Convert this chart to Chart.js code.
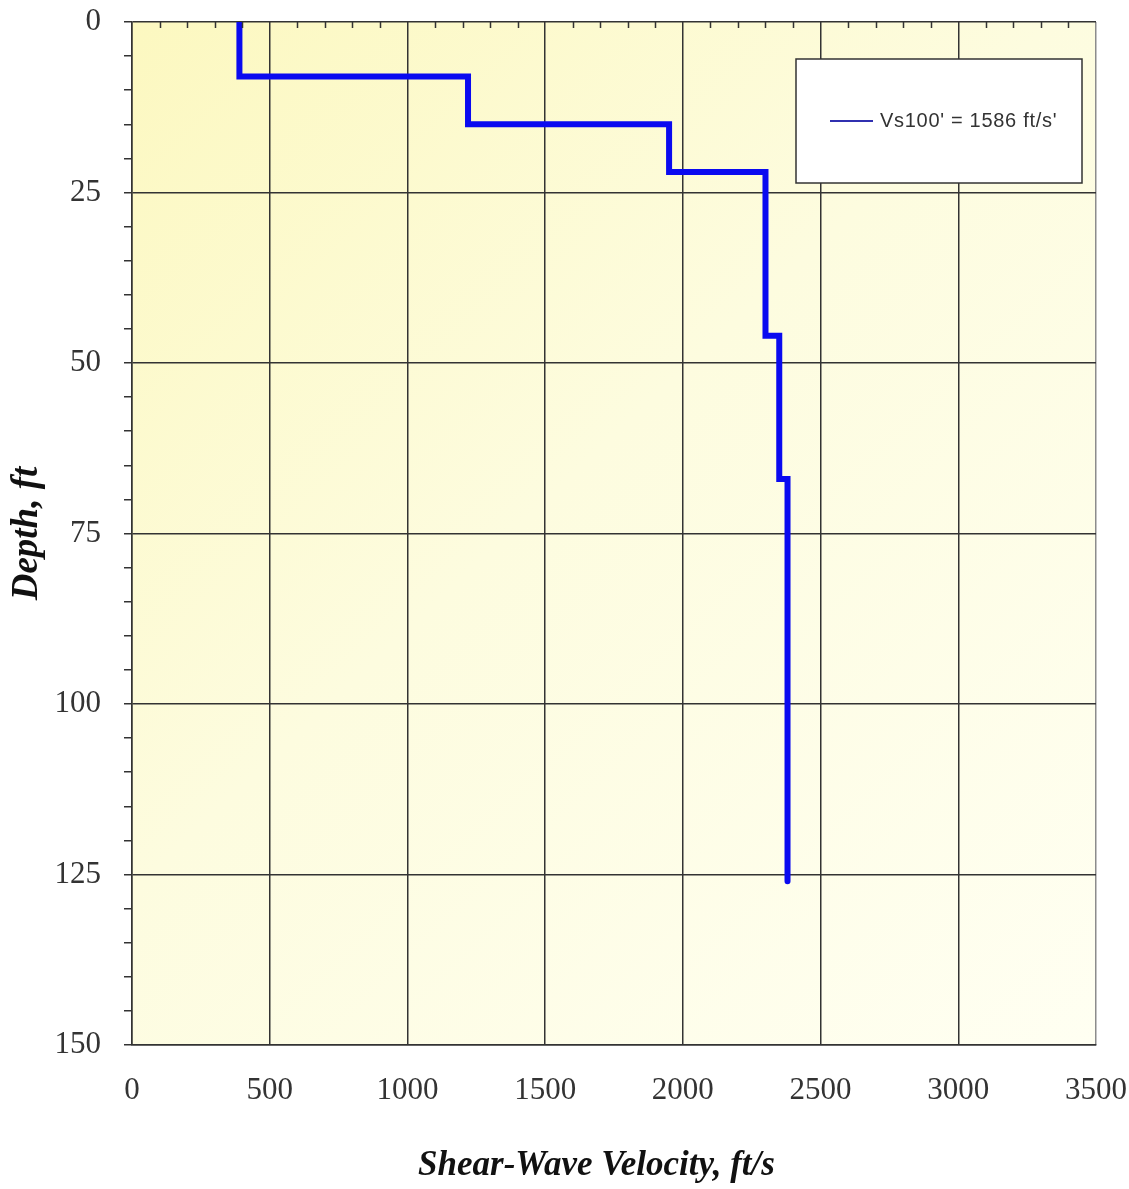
<!DOCTYPE html>
<html>
<head>
<meta charset="utf-8">
<script src="https://cdn.jsdelivr.net/npm/chart.js@4/dist/chart.umd.min.js"></script>
<style>
  html, body { margin: 0; padding: 0; background: #ffffff; }
  canvas { display: block; }
</style>
</head>
<body>
<canvas id="vsChart" width="1129" height="1189"></canvas>
<script>
// Shear-wave velocity layers: velocity (ft/s) and depth to layer bottom (ft)
const layerVelocity = [390, 1220, 1950, 2300, 2350, 2380];
const layerBottom   = [8, 15, 22, 46, 67, 126];
const seriesLabel   = "Vs100' = 1586 ft/s'";

// Axis extents and tick spacing
const velocityRange = [0, 3500];
const velocityStep  = 500;
const velocityMinor = 100;
const depthRange    = [0, 150];
const depthStep     = 25;
const depthMinor    = 5;

// Build the stepped profile: each layer contributes its top and bottom point
const profile = [];
let layerTop = 0;
layerVelocity.forEach((v, i) => {
  profile.push({ x: v, y: layerTop });
  profile.push({ x: v, y: layerBottom[i] });
  layerTop = layerBottom[i];
});

const AXIS_COLOR = '#333333';
const SERIF = "'Liberation Serif', 'Times New Roman', serif";

// Creamy yellow fill behind the plot
const plotBackground = {
  id: 'plotBackground',
  beforeDraw(chart) {
    const { ctx, chartArea: a, width, height } = chart;
    ctx.save();
    ctx.fillStyle = '#ffffff';
    ctx.fillRect(0, 0, width, height);
    const g = ctx.createLinearGradient(a.left, a.top, a.right, a.bottom);
    g.addColorStop(0, '#fcf8c0');
    g.addColorStop(0.45, '#fdfcdf');
    g.addColorStop(1, '#fffff2');
    ctx.fillStyle = g;
    ctx.fillRect(a.left, a.top, a.right - a.left, a.bottom - a.top);
    ctx.restore();
  }
};

// Small inward ticks along the top edge of the plot
const topMinorTicks = {
  id: 'topMinorTicks',
  afterDatasetsDraw(chart) {
    const { ctx, chartArea: a, scales: { x } } = chart;
    ctx.save();
    ctx.strokeStyle = AXIS_COLOR;
    ctx.lineWidth = 1.5;
    ctx.beginPath();
    for (let v = velocityRange[0] + velocityMinor; v < velocityRange[1]; v += velocityMinor) {
      if (v % velocityStep === 0) continue;
      const px = Math.round(x.getPixelForValue(v)) + 0.5;
      ctx.moveTo(px, a.top);
      ctx.lineTo(px, a.top + 6);
    }
    ctx.stroke();
    ctx.restore();
  }
};

// Boxed legend in the upper right of the plot
const boxLegend = {
  id: 'boxLegend',
  afterDatasetsDraw(chart) {
    const { ctx, chartArea: a } = chart;
    const bx = a.right - 300, by = a.top + 37, bw = 286, bh = 124;
    ctx.save();
    ctx.fillStyle = '#ffffff';
    ctx.fillRect(bx, by, bw, bh);
    ctx.strokeStyle = AXIS_COLOR;
    ctx.lineWidth = 1.5;
    ctx.strokeRect(bx, by, bw, bh);
    const cy = by + 62;
    ctx.strokeStyle = '#3030b0';
    ctx.lineWidth = 2;
    ctx.beginPath();
    ctx.moveTo(bx + 34, cy);
    ctx.lineTo(bx + 77, cy);
    ctx.stroke();
    ctx.fillStyle = '#333333';
    ctx.font = "20px 'Liberation Sans', Arial, sans-serif";
    if ('letterSpacing' in ctx) ctx.letterSpacing = '0.7px';
    ctx.textBaseline = 'middle';
    ctx.textAlign = 'left';
    ctx.fillText(chart.data.datasets[0].label, bx + 84, cy);
    ctx.restore();
  }
};

new Chart(document.getElementById('vsChart'), {
  type: 'scatter',
  data: {
    datasets: [{
      label: seriesLabel,
      data: profile,
      showLine: true,
      borderColor: '#0a0af0',
      borderWidth: 6,
      borderJoinStyle: 'miter',
      borderCapStyle: 'round',
      pointRadius: 0,
      pointHoverRadius: 0,
      fill: false
    }]
  },
  options: {
    responsive: false,
    animation: false,
    events: [],
    layout: { padding: { top: 22, right: 33, left: 0, bottom: 0 } },
    plugins: {
      legend: { display: false },
      tooltip: { enabled: false }
    },
    scales: {
      x: {
        type: 'linear',
        position: 'bottom',
        min: velocityRange[0],
        max: velocityRange[1],
        afterFit(scale) {
          scale.height = 144;
          scale.paddingLeft = 0;
          scale.paddingRight = 0;
        },
        ticks: {
          stepSize: velocityStep,
          color: AXIS_COLOR,
          font: { family: SERIF, size: 31 },
          padding: 27,
          maxRotation: 0,
          callback: (v) => String(v)
        },
        grid: {
          color: (c) => c.tick && c.tick.value === velocityRange[1] ? '#8c8c8c' : AXIS_COLOR,
          lineWidth: 1.5,
          drawTicks: false
        },
        border: { display: true, color: AXIS_COLOR, width: 1.5 },
        title: {
          display: true,
          // trailing em space nudges the centred title slightly left
          text: 'Shear-Wave Velocity, ft/s\u2003',
          color: '#111111',
          font: { family: SERIF, size: 35, style: 'italic', weight: 'bold', lineHeight: 1 },
          padding: { top: 0, bottom: 6 }
        }
      },
      y: {
        type: 'linear',
        reverse: true,
        min: depthRange[0],
        max: depthRange[1],
        afterFit(scale) {
          scale.width = 132;
          scale.paddingTop = 0;
          scale.paddingBottom = 0;
        },
        ticks: {
          stepSize: depthMinor,
          autoSkip: false,
          color: AXIS_COLOR,
          font: { family: SERIF, size: 31 },
          padding: 23,
          callback: (v) => (v % depthStep === 0 ? String(v) : '')
        },
        grid: {
          color: (c) => (c.tick && c.tick.value % depthStep === 0 ? AXIS_COLOR : 'rgba(0,0,0,0)'),
          tickColor: AXIS_COLOR,
          tickWidth: 1.5,
          tickLength: 8,
          lineWidth: 1.5
        },
        border: { display: true, color: AXIS_COLOR, width: 1.5 },
        title: {
          display: true,
          text: 'Depth, ft',
          color: '#111111',
          font: { family: SERIF, size: 37, style: 'italic', weight: 'bold', lineHeight: 1 },
          padding: { top: 9, bottom: 0 }
        }
      }
    }
  },
  plugins: [plotBackground, topMinorTicks, boxLegend]
});
</script>
</body>
</html>
